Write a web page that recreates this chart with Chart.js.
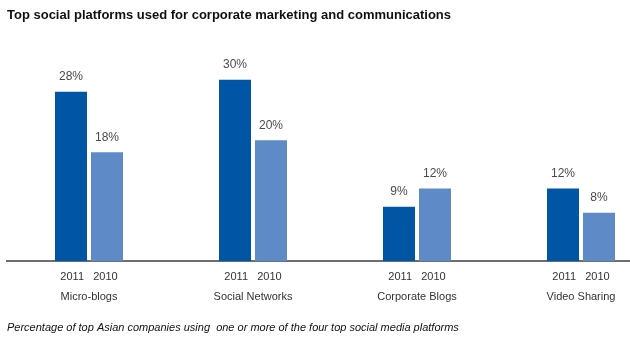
<!DOCTYPE html>
<html>
<head>
<meta charset="utf-8">
<script src="https://cdn.jsdelivr.net/npm/chart.js@4/dist/chart.umd.min.js"></script>
<style>
  html, body { margin: 0; padding: 0; background: #fff; }
  #wrap { width: 630px; height: 345px; overflow: hidden; }
</style>
</head>
<body>
<div id="wrap"><canvas id="chart" width="664" height="345"></canvas></div>
<script>
var categories = ['Micro-blogs', 'Social Networks', 'Corporate Blogs', 'Video Sharing'];
var years = ['2011', '2010'];
var values2011 = [28, 30, 9, 12];
var values2010 = [18, 20, 12, 8];

var chartColors = ['#0055a5', '#5e8bc8'];
var font = '"Liberation Sans", Arial, Helvetica, sans-serif';

// value labels above each bar
var valueLabels = {
  id: 'valueLabels',
  afterDatasetsDraw: (chart) => {
    var ctx = chart.ctx;
    ctx.save();
    ctx.font = '12px ' + font;
    ctx.fillStyle = '#4a4a4a';
    ctx.textAlign = 'center';
    ctx.textBaseline = 'bottom';
    chart.data.datasets.forEach((ds, i) => {
      chart.getDatasetMeta(i).data.forEach((bar, j) => {
        ctx.fillText(ds.data[j] + '%', bar.x, bar.y - 9);
      });
    });
    ctx.restore();
  }
};

var tickLabels = categories.map((c) => [years.join('   '), c]);

new Chart(document.getElementById('chart'), {
  type: 'bar',
  data: {
    labels: tickLabels,
    datasets: [
      { label: years[0], data: values2011, backgroundColor: chartColors[0] },
      { label: years[1], data: values2010, backgroundColor: chartColors[1] }
    ]
  },
  options: {
    responsive: false,
    animation: false,
    devicePixelRatio: 1,
    layout: { padding: { left: 7, right: 1, top: 0, bottom: 0 } },
    categoryPercentage: 0.439,
    barPercentage: 0.889,
    plugins: {
      legend: { display: false },
      tooltip: { enabled: false },
      title: {
        display: true,
        text: 'Top social platforms used for corporate marketing and communications',
        align: 'start',
        color: '#111',
        font: { family: font, size: 13, weight: 'bold' },
        padding: { top: 8, bottom: 44 }
      },
      subtitle: {
        display: true,
        position: 'bottom',
        text: 'Percentage of top Asian companies using  one or more of the four top social media platforms',
        align: 'start',
        color: '#111',
        font: { family: font, size: 11, style: 'italic' },
        padding: { top: 9, bottom: 10 }
      }
    },
    scales: {
      x: {
        grid: { display: false, drawTicks: false },
        border: { display: true, color: '#6e6e6e', width: 2 },
        ticks: {
          color: '#333',
          padding: 6,
          maxRotation: 0,
          autoSkip: false,
          font: { family: font, size: 11, lineHeight: 1.8 }
        }
      },
      y: {
        display: false,
        min: 0,
        max: 32
      }
    }
  },
  plugins: [valueLabels]
});
</script>
</body>
</html>
